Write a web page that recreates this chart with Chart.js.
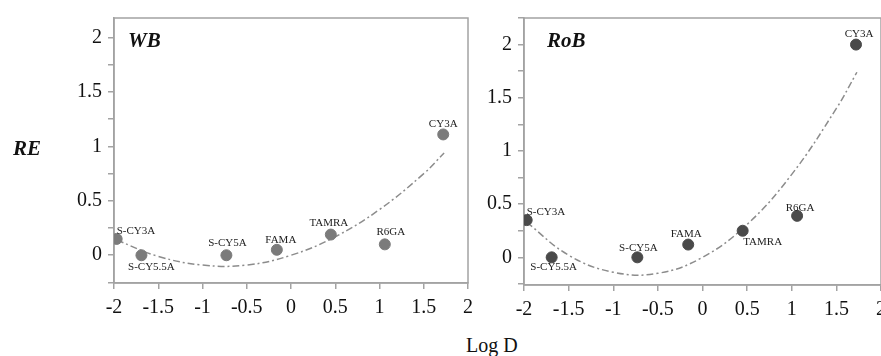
<!DOCTYPE html>
<html lang="en">
<head>
  <meta charset="UTF-8" />
  <title>RE vs Log D</title>
  <script src="https://cdn.jsdelivr.net/npm/chart.js"></script>
  <style>
    html, body { margin: 0; padding: 0; width: 881px; height: 356px; overflow: hidden; background: #fff; }
    body { position: relative; font-family: "Liberation Serif", "DejaVu Serif", serif; color: #111; }
    canvas { position: absolute; top: 0; }
    .txt { position: absolute; white-space: nowrap; line-height: 1; }
    .panel { font-weight: bold; font-style: italic; font-size: 21px; }
  </style>
</head>
<body>
  <canvas id="wbChart" width="440" height="320" style="left:40px;width:440px;height:320px;"></canvas>
  <canvas id="robChart" width="420" height="320" style="left:480px;width:420px;height:320px;"></canvas>
  <div class="txt panel" style="left:128px;top:30px;">WB</div>
  <div class="txt panel" style="left:547px;top:30px;">RoB</div>
  <div class="txt panel" style="left:13px;top:138px;">RE</div>
  <div class="txt" style="left:466px;top:335px;font-size:20px;">Log D</div>

  <script>
const dyes = ['S-CY3A', 'S-CY5.5A', 'S-CY5A', 'FAMA', 'TAMRA', 'R6GA', 'CY3A'];
const logD = [-1.97, -1.69, -0.73, -0.16, 0.45, 1.06, 1.72];
const reWB = [0.15, 0.0, 0.0, 0.05, 0.19, 0.10, 1.11];
const reRoB = [0.35, 0.0, 0.0, 0.12, 0.25, 0.39, 2.0];

// fitted trend lines
const fitX = [-1.97, -1.5, -1, -0.5, 0, 0.5, 1, 1.5, 1.73];
const fitWB = [0.14, -0.01, -0.09, -0.09, 0.0, 0.17, 0.42, 0.75, 0.94];
const fitRoB = [0.33, 0.02, -0.14, -0.15, 0.0, 0.31, 0.78, 1.40, 1.74];

// label offsets from each point (dx, dy, align)
const labelPosWB = {
  'S-CY3A': [0, -8, 'left'], 'S-CY5.5A': [10, 12, 'center'], 'S-CY5A': [1, -12, 'center'],
  'FAMA': [4, -10, 'center'], 'TAMRA': [-2, -11, 'center'], 'R6GA': [6, -12, 'center'], 'CY3A': [0, -10, 'center']
};
const labelPosRoB = {
  'S-CY3A': [0, -8, 'left'], 'S-CY5.5A': [2, 10, 'center'], 'S-CY5A': [1, -9, 'center'],
  'FAMA': [-2, -10, 'center'], 'TAMRA': [20, 11, 'center'], 'R6GA': [3, -8, 'center'], 'CY3A': [3, -10, 'center']
};

const frameColor = '#a3a3a3';
const tickFont = { family: 'Liberation Serif', size: 20 };

const framePlugin = {
  id: 'frame',
  beforeDatasetsDraw(chart) {
    const a = chart.chartArea, ctx = chart.ctx;
    ctx.save();
    ctx.strokeStyle = frameColor;
    ctx.lineWidth = 1.5;
    ctx.strokeRect(a.left, a.top, a.right - a.left, a.bottom - a.top);
    ctx.restore();
  }
};

const pointLabels = {
  id: 'pointLabels',
  afterDatasetsDraw(chart, args, opts) {
    const ctx = chart.ctx;
    const meta = chart.getDatasetMeta(0);
    ctx.save();
    ctx.font = '11px "Liberation Serif"';
    ctx.fillStyle = '#222';
    ctx.textBaseline = 'middle';
    meta.data.forEach((pt, i) => {
      const p = opts.pos[dyes[i]];
      ctx.textAlign = p[2];
      ctx.fillText(dyes[i], pt.x + p[0], pt.y + p[1]);
    });
    ctx.restore();
  }
};

function makeChart(id, values, fit, opt) {
  const ctx = document.getElementById(id).getContext('2d');
  return new Chart(ctx, {
    type: 'scatter',
    data: {
      datasets: [{
        data: logD.map((x, i) => ({ x: x, y: values[i] })),
        backgroundColor: opt.pointColor,
        borderColor: opt.pointColor,
        pointRadius: 5.5,
        order: 0
      }, {
        data: fitX.map((x, i) => ({ x: x, y: fit[i] })),
        showLine: true,
        pointRadius: 0,
        borderColor: '#8c8c8c',
        borderWidth: 1.5,
        borderDash: [7, 3, 2, 3],
        tension: 0.4,
        order: 1
      }]
    },
    options: {
      responsive: false,
      animation: false,
      devicePixelRatio: 1,
      layout: { padding: { top: 15, right: opt.padRight, left: 0, bottom: 0 } },
      plugins: {
        legend: { display: false },
        tooltip: { enabled: false },
        pointLabels: { pos: opt.labelPos }
      },
      scales: {
        x: {
          type: 'linear',
          min: -2, max: 2,
          afterFit: s => { s.height = opt.xHeight; },
          grid: { drawOnChartArea: false, drawTicks: true, tickLength: 6, color: frameColor, lineWidth: 1.5 },
          border: { display: true, color: frameColor, width: 1.5 },
          ticks: {
            stepSize: 0.5, autoSkip: false, maxRotation: 0, padding: 7,
            font: tickFont, color: '#111',
            callback: v => String(v)
          }
        },
        y: {
          type: 'linear',
          min: opt.yMin, max: opt.yMax,
          afterFit: s => { s.width = opt.yWidth; },
          grid: { drawOnChartArea: false, drawTicks: true, tickLength: 6, color: frameColor, lineWidth: 1.5 },
          border: { display: true, color: frameColor, width: 1.5 },
          ticks: {
            stepSize: 0.25, includeBounds: false, autoSkip: false, padding: opt.yPad,
            font: tickFont, color: '#111',
            callback: v => (Math.abs(v * 2 - Math.round(v * 2)) < 1e-6 ? String(v) : '')
          }
        }
      }
    },
    plugins: [framePlugin, pointLabels]
  });
}

makeChart('wbChart', reWB, fitWB, {
  pointColor: '#7b7b7b', labelPos: labelPosWB,
  yMin: -0.255, yMax: 2.18, yWidth: 74, xHeight: 37, padRight: 10, yPad: 6
});
makeChart('robChart', reRoB, fitRoB, {
  pointColor: '#4a4a4a', labelPos: labelPosRoB,
  yMin: -0.26, yMax: 2.25, yWidth: 44, xHeight: 35, padRight: 19, yPad: 6
});
  </script>
</body>
</html>
